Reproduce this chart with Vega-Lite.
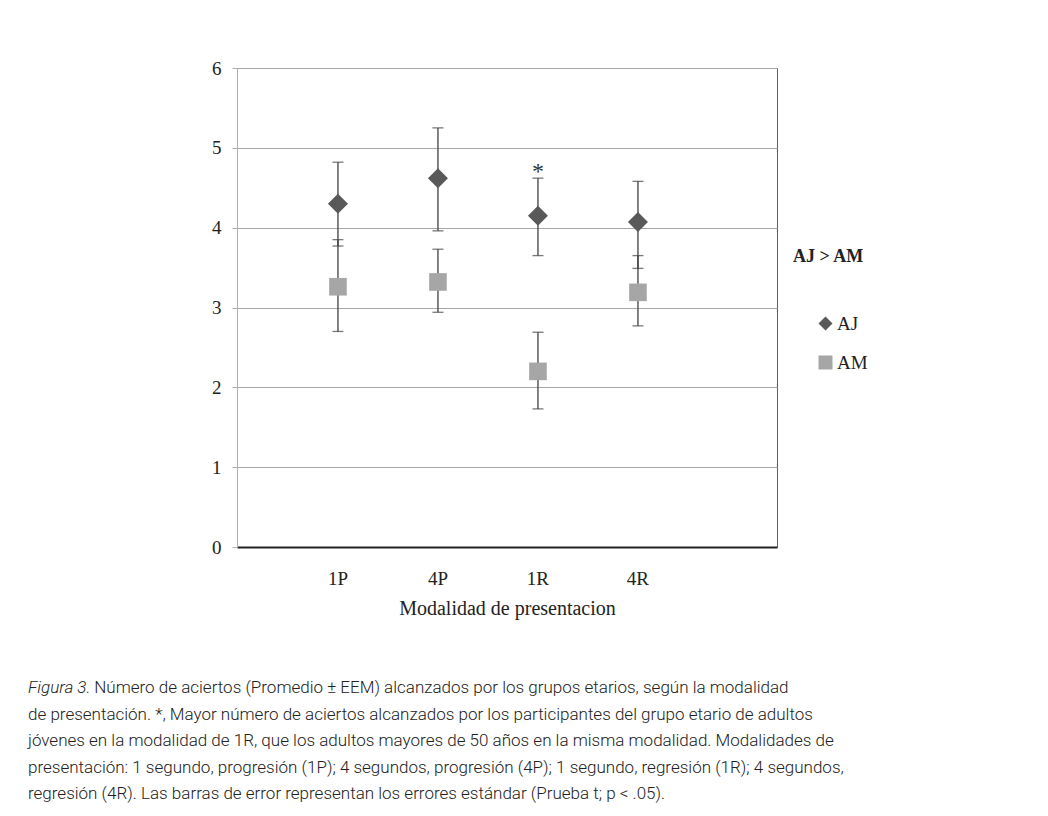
{
  "$schema": "https://vega.github.io/schema/vega-lite/v6.json",
  "autosize": {"type": "none"},
  "width": 540,
  "height": 479,
  "padding": {"left": 237, "top": 68, "right": 271, "bottom": 269},
  "background": "white",
  "data": {
    "values": [
      {"grupo": "AJ", "modalidad": "1P", "media": 4.30, "lo": 3.77, "hi": 4.82, "sig": null},
      {"grupo": "AJ", "modalidad": "4P", "media": 4.62, "lo": 3.96, "hi": 5.25, "sig": null},
      {"grupo": "AJ", "modalidad": "1R", "media": 4.15, "lo": 3.65, "hi": 4.62, "sig": "*"},
      {"grupo": "AJ", "modalidad": "4R", "media": 4.07, "lo": 3.49, "hi": 4.58, "sig": null},
      {"grupo": "AM", "modalidad": "1P", "media": 3.26, "lo": 2.70, "hi": 3.85, "sig": null},
      {"grupo": "AM", "modalidad": "4P", "media": 3.32, "lo": 2.94, "hi": 3.73, "sig": null},
      {"grupo": "AM", "modalidad": "1R", "media": 2.20, "lo": 1.73, "hi": 2.69, "sig": null},
      {"grupo": "AM", "modalidad": "4R", "media": 3.19, "lo": 2.77, "hi": 3.65, "sig": null}
    ]
  },
  "title": {
    "text": "Figura 3.",
    "subtitle": [
      "\u200b\u00a0\u00a0\u00a0\u00a0\u00a0\u00a0\u00a0\u00a0\u00a0\u00a0\u00a0\u00a0\u00a0\u00a0\u00a0\u00a0Número de aciertos (Promedio ± EEM) alcanzados por los grupos etarios, según la modalidad",
      "de presentación. *, Mayor número de aciertos alcanzados por los participantes del grupo etario de adultos",
      "jóvenes en la modalidad de 1R, que los adultos mayores de 50 años en la misma modalidad.  Modalidades de",
      "presentación: 1 segundo, progresión (1P); 4 segundos, progresión (4P); 1 segundo, regresión (1R); 4 segundos,",
      "regresión (4R). Las barras de error representan los errores estándar (Prueba t; p < .05)."
    ],
    "orient": "bottom",
    "anchor": "start",
    "frame": "group",
    "dx": -209,
    "offset": 62,
    "font": "Roboto",
    "fontSize": 17,
    "fontStyle": "italic",
    "fontWeight": 300,
    "color": "#222222",
    "subtitleFont": "Roboto",
    "subtitleFontSize": 17,
    "subtitleFontWeight": 300,
    "subtitleColor": "#222222",
    "subtitleLineHeight": 26.5,
    "subtitlePadding": -17
  },
  "encoding": {
    "x": {
      "field": "modalidad",
      "type": "nominal",
      "sort": ["1P", "4P", "1R", "4R"],
      "scale": {"type": "band", "paddingInner": 0, "paddingOuter": 0.7, "align": 0.364},
      "axis": {
        "title": "Modalidad de presentacion",
        "labelAngle": 0,
        "grid": false,
        "labelFont": "Liberation Serif",
        "labelFontSize": 19,
        "labelColor": "#222222",
        "labelPadding": 22,
        "ticks": false,
        "tickSize": 0,
        "domainColor": "#222222",
        "domainWidth": 2,
        "titleFont": "Liberation Serif",
        "titleFontSize": 20,
        "titleFontWeight": "normal",
        "titleColor": "#222222",
        "titlePadding": 10
      }
    }
  },
  "layer": [
    {
      "mark": {"type": "rule", "color": "#404040", "strokeWidth": 1.3},
      "encoding": {
        "y": {
          "field": "lo",
          "type": "quantitative",
          "scale": {"domain": [0, 6], "nice": false},
          "axis": {
            "title": null,
            "grid": true,
            "values": [0, 1, 2, 3, 4, 5, 6],
            "format": "d",
            "labelFont": "Liberation Serif",
            "labelFontSize": 19,
            "labelColor": "#222222",
            "labelPadding": 11,
            "tickSize": 5,
            "tickColor": "#b0b0b0",
            "domainColor": "#b0b0b0",
            "gridColor": "#a6a6a6",
            "gridWidth": 1
          }
        },
        "y2": {"field": "hi"}
      }
    },
    {
      "mark": {"type": "tick", "color": "#404040", "thickness": 1.3, "size": 11, "orient": "horizontal"},
      "encoding": {"y": {"field": "lo", "type": "quantitative"}}
    },
    {
      "mark": {"type": "tick", "color": "#404040", "thickness": 1.3, "size": 11, "orient": "horizontal"},
      "encoding": {"y": {"field": "hi", "type": "quantitative"}}
    },
    {
      "transform": [{"filter": "datum.grupo === 'AJ'"}],
      "mark": {"type": "point", "filled": true, "opacity": 1, "size": 400},
      "encoding": {
        "y": {"field": "media", "type": "quantitative"},
        "color": {"field": "grupo", "type": "nominal", "scale": {"domain": ["AJ", "AM"], "range": ["#595959", "#a6a6a6"]}, "legend": {
          "title": "AJ > AM",
          "orient": "none",
          "legendX": 556,
          "legendY": 180,
          "titleFont": "Liberation Serif",
          "titleFontSize": 18,
          "titleFontWeight": "bold",
          "titleColor": "#222222",
          "titlePadding": 48,
          "labelFont": "Liberation Serif",
          "labelFontSize": 19,
          "labelColor": "#222222",
          "labelOffset": 2,
          "symbolOffset": 23,
          "symbolSize": 196,
          "symbolStrokeWidth": 0,
          "rowPadding": 19
        }},
        "shape": {"field": "grupo", "type": "nominal", "scale": {"domain": ["AJ", "AM"], "range": ["diamond", "square"]}}
      }
    },
    {
      "transform": [{"filter": "datum.grupo === 'AM'"}],
      "mark": {"type": "point", "filled": true, "opacity": 1, "size": 310},
      "encoding": {
        "y": {"field": "media", "type": "quantitative"},
        "color": {"field": "grupo", "type": "nominal"},
        "shape": {"field": "grupo", "type": "nominal"}
      }
    },
    {
      "transform": [{"filter": "datum.sig != null"}],
      "mark": {"type": "text", "font": "Liberation Serif", "fontSize": 24, "color": "#333333", "dy": 6, "baseline": "bottom"},
      "encoding": {
        "y": {"field": "hi", "type": "quantitative"},
        "text": {"field": "sig"}
      }
    }
  ],
  "config": {
    "view": {"stroke": "#606060", "strokeWidth": 1}
  }
}
